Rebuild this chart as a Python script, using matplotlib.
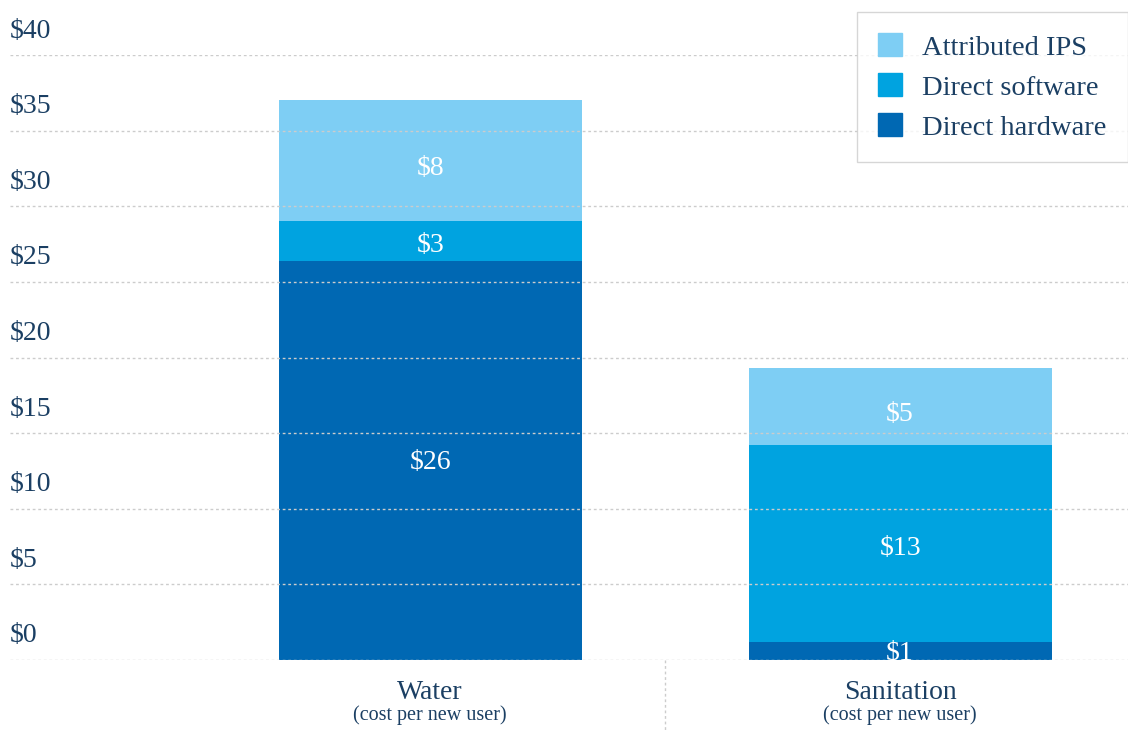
import matplotlib
matplotlib.use("Agg")
import matplotlib.pyplot as plt
import matplotlib.transforms as mtransforms
from matplotlib.patches import Patch

# data
categories = ["Water", "Sanitation"]
hardware = [26.4, 1.2]
software = [2.6, 13.0]
ips = [8.0, 5.1]
hardware_labels = ["$26", "$1"]
software_labels = ["$3", "$13"]
ips_labels = ["$8", "$5"]
y_ticks = [0, 5, 10, 15, 20, 25, 30, 35, 40]

c_ips = "#7ecef4"
c_soft = "#00a3e0"
c_hard = "#0068b3"
navy = "#1b3f63"
grid_c = "#cccccc"

plt.rcParams["font.family"] = ["Liberation Serif", "DejaVu Serif"]

fig = plt.figure(figsize=(11.28, 7.31), dpi=100)
W, H = 1128, 731
# axes: left 10px, right 1128px, y=0 at 660px, y=40 at 55px
ax = fig.add_axes([10 / W, (H - 660) / H, 1118 / W, 605 / H])

x = list(range(len(categories)))
width = 0.645
ax.bar(x, hardware, width, color=c_hard, zorder=2)
ax.bar(x, software, width, bottom=hardware, color=c_soft, zorder=2)
bottom3 = [h + s for h, s in zip(hardware, software)]
ax.bar(x, ips, width, bottom=bottom3, color=c_ips, zorder=2)

# value labels in the segments
lbl = dict(ha="center", va="center_baseline", color="white", fontsize=20, zorder=4)
for i in x:
    ax.text(i, hardware[i] / 2 + 0.05, hardware_labels[i], **lbl)
    ax.text(i, hardware[i] + software[i] / 2 - 0.1, software_labels[i], **lbl)
    ax.text(i, bottom3[i] + ips[i] / 2 - 0.3, ips_labels[i], **lbl)

ax.set_xlim(-0.894, 1.485)
ax.set_ylim(0, 40)

# dotted gridlines drawn over the bars
for t in y_ticks:
    ax.axhline(t, color=grid_c, linestyle=(0, (2, 2)), linewidth=1, zorder=3)

# y labels sit above their gridline
off = mtransforms.offset_copy(ax.get_yaxis_transform(), fig=fig, x=0, y=27, units="dots")
for t in y_ticks:
    ax.text(0, t, f"${t}", transform=off, ha="left", va="center_baseline",
            color=navy, fontsize=20)

ax.set_yticks([])
ax.set_xticks([])
for s in ax.spines.values():
    s.set_visible(False)

# separator between categories below the axis
ax.plot([0.5, 0.5], [0, -4.8], color=grid_c, linestyle=(0, (2, 2)), linewidth=1, clip_on=False)

# category labels
for i, name in enumerate(categories):
    ax.text(i, -1.95, name, ha="center", va="center_baseline", color=navy, fontsize=20)
    ax.text(i, -3.5, "(cost per new user)", ha="center", va="center_baseline",
            color=navy, fontsize=14.5)

handles = [Patch(color=c_ips, label="Attributed IPS"),
           Patch(color=c_soft, label="Direct software"),
           Patch(color=c_hard, label="Direct hardware")]
leg = fig.legend(handles=handles, loc="upper right", bbox_to_anchor=(1.0, (H - 12) / H),
                 fontsize=20.5, frameon=True, fancybox=False, edgecolor=grid_c,
                 handlelength=0.85, handleheight=0.85, handletextpad=0.7,
                 borderpad=0.75, labelspacing=0.45, borderaxespad=0)
for txt in leg.get_texts():
    txt.set_color(navy)

fig.savefig("out.png", dpi=100)
